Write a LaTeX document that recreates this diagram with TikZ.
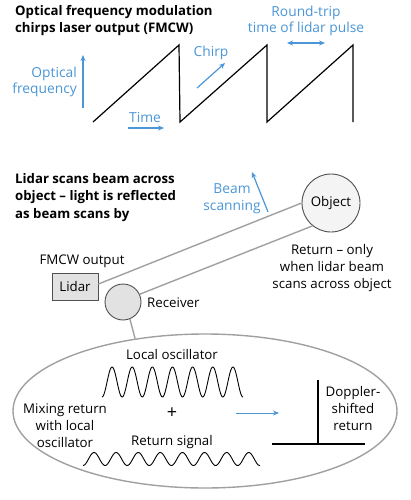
\documentclass[tikz,border=0pt]{standalone}
\usepackage{fontspec}
\setmainfont{Open Sans}
\usetikzlibrary{shapes.geometric,arrows.meta}
\definecolor{fblue}{RGB}{74,150,214}
\definecolor{lgray}{RGB}{160,160,160}
\definecolor{dgray}{RGB}{80,80,80}
\definecolor{fillg}{RGB}{226,226,226}
\definecolor{fillw}{RGB}{244,244,244}
\begin{document}
\begin{tikzpicture}[x=1pt,y=-1pt,
  head/.style={font=\bfseries\fontsize{13.2}{17.5}\selectfont, align=left, inner sep=0, anchor=base west},
  btxt/.style={text=fblue, font=\fontsize{13.8}{16.5}\selectfont, align=center, inner sep=0, anchor=base},
  txt/.style={font=\fontsize{13.3}{17}\selectfont, align=center, inner sep=0, anchor=base},
  barrow/.style={fblue, line width=1.2pt, -{Stealth[length=6pt,width=5pt]}},
  gline/.style={lgray, line width=1.4pt},
  saw/.style={black, line width=1.2pt, line join=miter},
  wave/.style={black, line width=0.9pt, smooth}]
\useasboundingbox (0,0) rectangle (410,500);
% ---- top section
\node[head] (title) at (15,33) {Optical frequency modulation\\chirps laser output (FMCW)};
\node[btxt] (rt) at (306,33) {Round-trip\\time of lidar pulse};
\node[btxt, align=right, anchor=base east] (of) at (77,94) {Optical\\frequency};
\node[btxt] (chirp) at (211,57) {Chirp};
\node[btxt] (time) at (145,122) {Time};
\coordinate (rtA) at (287,43); \coordinate (rtB) at (325,43);
\draw[fblue, line width=1.2pt, {Stealth[length=6pt,width=5pt]}-{Stealth[length=6pt,width=5pt]}] (rtA) -- (rtB);
\coordinate (ofA) at (83,108); \coordinate (ofB) at (83,55);
\draw[barrow] (ofA) -- (ofB);
\coordinate (chA) at (197,88); \coordinate (chB) at (225,63);
\draw[barrow] (chA) -- (chB);
\coordinate (tA) at (128,128); \coordinate (tB) at (164,128);
\draw[barrow] (tA) -- (tB);
\draw[saw] (93,122) -- (179,45) -- (180,122) -- (267,45) -- (267,122) -- (353,45) -- (353,122);
% ---- middle section
\node[head] (lidarhead) at (15,218) {Lidar scans beam across\\object -- light is reflected\\as beam scans by};
\node[btxt] (beam) at (232,210) {Beam\\scanning};
\coordinate (bA) at (268,212); \coordinate (bB) at (252,172);
\draw[barrow] (bA) -- (bB);
\node[circle, draw=dgray, line width=0.9pt, fill=fillw, minimum size=58pt, inner sep=0, font=\fontsize{13.3}{16}\selectfont] (obj) at (331,203) {Object};
\node[txt] (ret) at (332,288) {Return -- only\\when lidar beam\\scans across object};
\node[txt] (fmcw) at (82,264) {FMCW output};
\node[draw=dgray, line width=0.9pt, fill=fillg, minimum width=46pt, minimum height=27pt, inner sep=0, font=\fontsize{13.3}{16}\selectfont] (lidar) at (75,287) {Lidar};
\node[circle, draw=dgray, line width=0.9pt, fill=fillg, minimum size=36pt, inner sep=0] (rec) at (123,302) {};
\node[txt, anchor=base west] (reclbl) at (147,307) {Receiver};
\node[ellipse, draw=lgray, line width=1.4pt, minimum width=384pt, minimum height=154pt, inner sep=0] (mix) at (205,411) {};
\draw[gline] (lidar.east |- 0,284) -- (obj.west);
\draw[gline] (rec.25) -- (obj.231);
\draw[gline] (rec.-68) -- (mix.134);
% ---- mixing section
\node[txt] (lo) at (172,359) {Local oscillator};
\draw[wave, domain=102:243, samples=200] plot (\x, {382+15*cos(17.875*(\x-102))});
\node[txt, font=\fontsize{18}{18}\selectfont, anchor=center] (plus) at (172,413) {+};
\node[txt] (rs) at (172,445) {Return signal};
\draw[wave, domain=83:260, samples=200] plot (\x, {459+6.5*cos(16.29*(\x-83))});
\node[txt] (mixlbl) at (65,447) {Mixing return\\with local\\oscillator};
\coordinate (mA) at (236,413); \coordinate (mB) at (279,413);
\draw[barrow, line width=1pt] (mA) -- (mB);
\coordinate (dTop) at (318,380); \coordinate (dBot) at (318,444);
\coordinate (hL) at (272,444); \coordinate (hR) at (365,444);
\draw[black, line width=1.2pt] (dTop) -- (dBot);
\draw[black, line width=1.2pt] (hL) -- (hR);
\node[txt] (dop) at (353,430) {Doppler-\\shifted\\return};
\end{tikzpicture}
\end{document}
